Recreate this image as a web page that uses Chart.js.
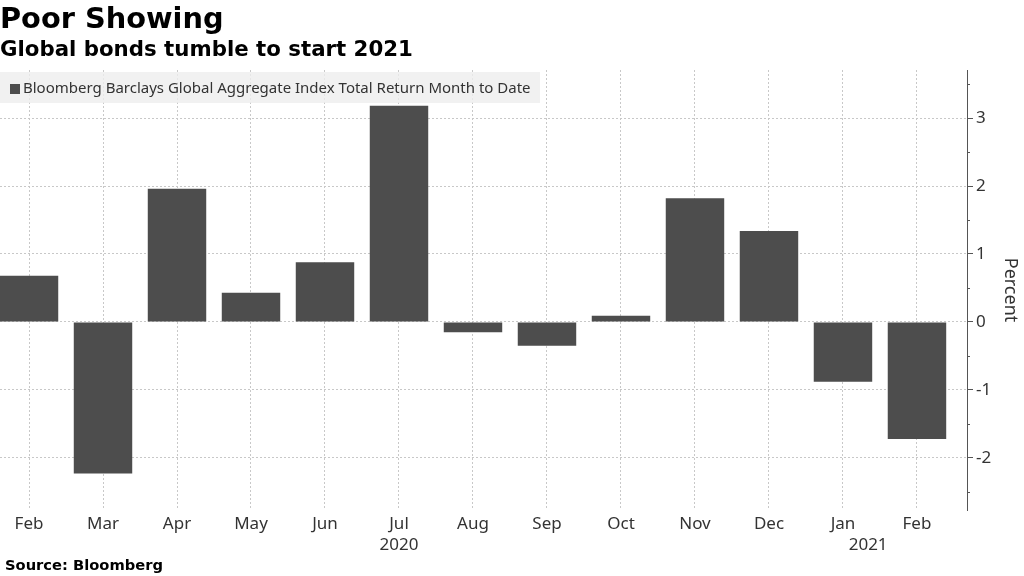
<!DOCTYPE html>
<html>
<head>
<meta charset="utf-8">
<script src="https://cdn.jsdelivr.net/npm/chart.js@4.4.1/dist/chart.umd.min.js"></script>
<style>
  html, body { margin: 0; padding: 0; background: #fff; }
  #wrap { position: relative; width: 1024px; height: 576px; overflow: hidden; }
  #chart { position: absolute; left: 0; top: 0; }
  .head { position: absolute; left: 0; font-family: "DejaVu Sans"; font-weight: bold; color: #000; white-space: nowrap; }
  #title { top: 1px; font-size: 28.8px; }
  #subtitle { top: 36px; font-size: 21.3px; }
  #legend { position: absolute; left: 0; top: 72px; width: 540px; height: 31px; background: rgba(238,238,238,0.8);
            font-family: "Noto Sans"; font-size: 15px; color: #333; line-height: 31px; white-space: nowrap; }
  #legend i { display: inline-block; width: 10px; height: 10px; background: #4d4d4d; margin: 0 3px 0 10px; vertical-align: -1px; }
  #source { position: absolute; left: 5px; top: 556px; font-family: "DejaVu Sans"; font-weight: bold; font-size: 14.7px; color: #000; }
</style>
</head>
<body>
<div id="wrap">
  <canvas id="chart" width="1024" height="576"></canvas>
  <div id="title" class="head">Poor Showing</div>
  <div id="subtitle" class="head">Global bonds tumble to start 2021</div>
  <div id="legend"><i></i><span id="legendText"></span></div>
  <div id="source">Source: Bloomberg</div>
</div>
<script>
// month-to-date total return, percent
const seriesName = 'Bloomberg Barclays Global Aggregate Index Total Return Month to Date';
const months = ['Feb', 'Mar', 'Apr', 'May', 'Jun', 'Jul', 'Aug', 'Sep', 'Oct', 'Nov', 'Dec', 'Jan', 'Feb'];
const returns = [0.68, -2.23, 1.96, 0.43, 0.88, 3.18, -0.15, -0.35, 0.09, 1.82, 1.34, -0.88, -1.72];
const years = ['2020', '2021'];
const yearAt = [5, 11.34];
const yTicks = [-2, -1, 0, 1, 2, 3];
const yMinor = [-2.5, -1.5, -0.5, 0.5, 1.5, 2.5, 3.5];

document.getElementById('legendText').textContent = seriesName;

const extras = {
    id: 'extras',
    afterDraw(chart) {
        const ctx = chart.ctx;
        const x = chart.scales.x, y = chart.scales.y;
        ctx.save();
        // minor ticks on the right axis
        ctx.strokeStyle = '#555';
        ctx.lineWidth = 1;
        yMinor.forEach(function(v) {
            const py = Math.round(y.getPixelForValue(v)) + 0.5;
            ctx.beginPath();
            ctx.moveTo(y.left, py);
            ctx.lineTo(y.left + 3, py);
            ctx.stroke();
        });
        // year row under the months
        ctx.fillStyle = '#333';
        ctx.font = '17px "Noto Sans"';
        ctx.textAlign = 'center';
        ctx.textBaseline = 'middle';
        years.forEach(function(t, i) {
            ctx.fillText(t, x.getPixelForValue(yearAt[i]), 545);
        });
        ctx.restore();
    }
};

new Chart(document.getElementById('chart'), {
    type: 'bar',
    data: {
        datasets: [{
            label: seriesName,
            data: returns.map(function(v, i) { return { x: i, y: v }; }),
            backgroundColor: '#4d4d4d',
            borderWidth: 0,
            barPercentage: 1,
            categoryPercentage: 0.79
        }]
    },
    options: {
        responsive: false,
        animation: false,
        layout: { padding: { top: 70, bottom: 0, left: 0, right: 0 } },
        plugins: { legend: { display: false }, tooltip: { enabled: false } },
        scales: {
            x: {
                type: 'linear',
                offset: false,
                min: -0.392,
                max: 12.676,
                afterBuildTicks: function(s) { s.ticks = months.map(function(m, i) { return { value: i }; }); },
                afterFit: function(s) { s.height = 66; },
                ticks: {
                    callback: function(v) { return months[v]; },
                    autoSkip: false,
                    maxRotation: 0,
                    padding: 4,
                    color: '#333',
                    font: { family: 'Noto Sans', size: 17 }
                },
                grid: { color: '#c8c8c8', drawTicks: false, offset: false },
                border: { display: false, dash: [2, 2] }
            },
            y: {
                position: 'right',
                min: -2.765,
                max: 3.706,
                afterBuildTicks: function(s) { s.ticks = yTicks.map(function(v) { return { value: v }; }); },
                afterFit: function(s) { s.width = 57; },
                ticks: {
                    padding: 3,
                    color: '#333',
                    font: { family: 'Noto Sans', size: 17 }
                },
                grid: { color: '#c8c8c8', tickLength: 6, tickColor: '#555' },
                border: { display: true, color: '#555', width: 1, dash: [2, 2] },
                title: {
                    display: true,
                    text: 'Percent',
                    color: '#333',
                    font: { family: 'Noto Sans', size: 18 },
                    padding: { top: 3, bottom: 0 }
                }
            }
        }
    },
    plugins: [extras]
});
</script>
</body>
</html>
